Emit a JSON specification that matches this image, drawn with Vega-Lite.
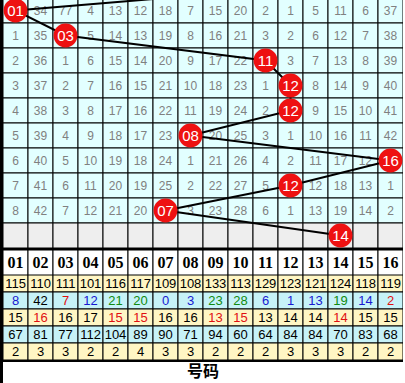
{
  "$schema": "https://vega.github.io/schema/vega-lite/v6.json",
  "background": "black",
  "padding": {"left": 3, "top": 0, "right": 0, "bottom": 0},
  "config": {"view": {"stroke": null}},
  "spacing": 2,
  "datasets": {
    "grid": [
      {"r":0,"c":1,"v":"01","h":1},{"r":0,"c":2,"v":"34"},{"r":0,"c":3,"v":"77"},{"r":0,"c":4,"v":"4"},{"r":0,"c":5,"v":"13"},{"r":0,"c":6,"v":"12"},{"r":0,"c":7,"v":"18"},{"r":0,"c":8,"v":"7"},{"r":0,"c":9,"v":"15"},{"r":0,"c":10,"v":"20"},{"r":0,"c":11,"v":"2"},{"r":0,"c":12,"v":"1"},{"r":0,"c":13,"v":"5"},{"r":0,"c":14,"v":"11"},{"r":0,"c":15,"v":"6"},{"r":0,"c":16,"v":"37"},
      {"r":1,"c":1,"v":"1"},{"r":1,"c":2,"v":"35"},{"r":1,"c":3,"v":"03","h":1},{"r":1,"c":4,"v":"5"},{"r":1,"c":5,"v":"14"},{"r":1,"c":6,"v":"13"},{"r":1,"c":7,"v":"19"},{"r":1,"c":8,"v":"8"},{"r":1,"c":9,"v":"16"},{"r":1,"c":10,"v":"21"},{"r":1,"c":11,"v":"3"},{"r":1,"c":12,"v":"2"},{"r":1,"c":13,"v":"6"},{"r":1,"c":14,"v":"12"},{"r":1,"c":15,"v":"7"},{"r":1,"c":16,"v":"38"},
      {"r":2,"c":1,"v":"2"},{"r":2,"c":2,"v":"36"},{"r":2,"c":3,"v":"1"},{"r":2,"c":4,"v":"6"},{"r":2,"c":5,"v":"15"},{"r":2,"c":6,"v":"14"},{"r":2,"c":7,"v":"20"},{"r":2,"c":8,"v":"9"},{"r":2,"c":9,"v":"17"},{"r":2,"c":10,"v":"22"},{"r":2,"c":11,"v":"11","h":1},{"r":2,"c":12,"v":"3"},{"r":2,"c":13,"v":"7"},{"r":2,"c":14,"v":"13"},{"r":2,"c":15,"v":"8"},{"r":2,"c":16,"v":"39"},
      {"r":3,"c":1,"v":"3"},{"r":3,"c":2,"v":"37"},{"r":3,"c":3,"v":"2"},{"r":3,"c":4,"v":"7"},{"r":3,"c":5,"v":"16"},{"r":3,"c":6,"v":"15"},{"r":3,"c":7,"v":"21"},{"r":3,"c":8,"v":"10"},{"r":3,"c":9,"v":"18"},{"r":3,"c":10,"v":"23"},{"r":3,"c":11,"v":"1"},{"r":3,"c":12,"v":"12","h":1},{"r":3,"c":13,"v":"8"},{"r":3,"c":14,"v":"14"},{"r":3,"c":15,"v":"9"},{"r":3,"c":16,"v":"40"},
      {"r":4,"c":1,"v":"4"},{"r":4,"c":2,"v":"38"},{"r":4,"c":3,"v":"3"},{"r":4,"c":4,"v":"8"},{"r":4,"c":5,"v":"17"},{"r":4,"c":6,"v":"16"},{"r":4,"c":7,"v":"22"},{"r":4,"c":8,"v":"11"},{"r":4,"c":9,"v":"19"},{"r":4,"c":10,"v":"24"},{"r":4,"c":11,"v":"2"},{"r":4,"c":12,"v":"12","h":1},{"r":4,"c":13,"v":"9"},{"r":4,"c":14,"v":"15"},{"r":4,"c":15,"v":"10"},{"r":4,"c":16,"v":"41"},
      {"r":5,"c":1,"v":"5"},{"r":5,"c":2,"v":"39"},{"r":5,"c":3,"v":"4"},{"r":5,"c":4,"v":"9"},{"r":5,"c":5,"v":"18"},{"r":5,"c":6,"v":"17"},{"r":5,"c":7,"v":"23"},{"r":5,"c":8,"v":"08","h":1},{"r":5,"c":9,"v":"20"},{"r":5,"c":10,"v":"25"},{"r":5,"c":11,"v":"3"},{"r":5,"c":12,"v":"1"},{"r":5,"c":13,"v":"10"},{"r":5,"c":14,"v":"16"},{"r":5,"c":15,"v":"11"},{"r":5,"c":16,"v":"42"},
      {"r":6,"c":1,"v":"6"},{"r":6,"c":2,"v":"40"},{"r":6,"c":3,"v":"5"},{"r":6,"c":4,"v":"10"},{"r":6,"c":5,"v":"19"},{"r":6,"c":6,"v":"18"},{"r":6,"c":7,"v":"24"},{"r":6,"c":8,"v":"1"},{"r":6,"c":9,"v":"21"},{"r":6,"c":10,"v":"26"},{"r":6,"c":11,"v":"4"},{"r":6,"c":12,"v":"2"},{"r":6,"c":13,"v":"11"},{"r":6,"c":14,"v":"17"},{"r":6,"c":15,"v":"12"},{"r":6,"c":16,"v":"16","h":1},
      {"r":7,"c":1,"v":"7"},{"r":7,"c":2,"v":"41"},{"r":7,"c":3,"v":"6"},{"r":7,"c":4,"v":"11"},{"r":7,"c":5,"v":"20"},{"r":7,"c":6,"v":"19"},{"r":7,"c":7,"v":"25"},{"r":7,"c":8,"v":"2"},{"r":7,"c":9,"v":"22"},{"r":7,"c":10,"v":"27"},{"r":7,"c":11,"v":"5"},{"r":7,"c":12,"v":"12","h":1},{"r":7,"c":13,"v":"12"},{"r":7,"c":14,"v":"18"},{"r":7,"c":15,"v":"13"},{"r":7,"c":16,"v":"1"},
      {"r":8,"c":1,"v":"8"},{"r":8,"c":2,"v":"42"},{"r":8,"c":3,"v":"7"},{"r":8,"c":4,"v":"12"},{"r":8,"c":5,"v":"21"},{"r":8,"c":6,"v":"20"},{"r":8,"c":7,"v":"07","h":1},{"r":8,"c":8,"v":"3"},{"r":8,"c":9,"v":"23"},{"r":8,"c":10,"v":"28"},{"r":8,"c":11,"v":"6"},{"r":8,"c":12,"v":"1"},{"r":8,"c":13,"v":"13"},{"r":8,"c":14,"v":"19"},{"r":8,"c":15,"v":"14"},{"r":8,"c":16,"v":"2"},
      {"r":9,"c":1,"v":""},{"r":9,"c":2,"v":""},{"r":9,"c":3,"v":""},{"r":9,"c":4,"v":""},{"r":9,"c":5,"v":""},{"r":9,"c":6,"v":""},{"r":9,"c":7,"v":""},{"r":9,"c":8,"v":""},{"r":9,"c":9,"v":""},{"r":9,"c":10,"v":""},{"r":9,"c":11,"v":""},{"r":9,"c":12,"v":""},{"r":9,"c":13,"v":""},{"r":9,"c":14,"v":"14","h":1},{"r":9,"c":15,"v":""},{"r":9,"c":16,"v":""}
    ],
    "path": [
      {"r":-1,"c":13},{"r":0,"c":1},{"r":1,"c":3},{"r":2,"c":11},{"r":3,"c":12},{"r":4,"c":12},{"r":5,"c":8},{"r":6,"c":16},{"r":7,"c":12},{"r":8,"c":7},{"r":9,"c":14}
    ],
    "hdr": [
      {"c":1,"t":"01"},{"c":2,"t":"02"},{"c":3,"t":"03"},{"c":4,"t":"04"},{"c":5,"t":"05"},{"c":6,"t":"06"},{"c":7,"t":"07"},{"c":8,"t":"08"},{"c":9,"t":"09"},{"c":10,"t":"10"},{"c":11,"t":"11"},{"c":12,"t":"12"},{"c":13,"t":"13"},{"c":14,"t":"14"},{"c":15,"t":"15"},{"c":16,"t":"16"}
    ],
    "stats": [
      {"k":1,"c":1,"v":"115","g":"k"},{"k":1,"c":2,"v":"110","g":"k"},{"k":1,"c":3,"v":"111","g":"k"},{"k":1,"c":4,"v":"101","g":"k"},{"k":1,"c":5,"v":"116","g":"k"},{"k":1,"c":6,"v":"117","g":"k"},{"k":1,"c":7,"v":"109","g":"k"},{"k":1,"c":8,"v":"108","g":"k"},{"k":1,"c":9,"v":"133","g":"k"},{"k":1,"c":10,"v":"113","g":"k"},{"k":1,"c":11,"v":"129","g":"k"},{"k":1,"c":12,"v":"123","g":"k"},{"k":1,"c":13,"v":"121","g":"k"},{"k":1,"c":14,"v":"124","g":"k"},{"k":1,"c":15,"v":"118","g":"k"},{"k":1,"c":16,"v":"119","g":"k"},
      {"k":2,"c":1,"v":"8","g":"b"},{"k":2,"c":2,"v":"42","g":"k"},{"k":2,"c":3,"v":"7","g":"r"},{"k":2,"c":4,"v":"12","g":"b"},{"k":2,"c":5,"v":"21","g":"g"},{"k":2,"c":6,"v":"20","g":"g"},{"k":2,"c":7,"v":"0","g":"b"},{"k":2,"c":8,"v":"3","g":"b"},{"k":2,"c":9,"v":"23","g":"g"},{"k":2,"c":10,"v":"28","g":"g"},{"k":2,"c":11,"v":"6","g":"b"},{"k":2,"c":12,"v":"1","g":"b"},{"k":2,"c":13,"v":"13","g":"b"},{"k":2,"c":14,"v":"19","g":"g"},{"k":2,"c":15,"v":"14","g":"b"},{"k":2,"c":16,"v":"2","g":"r"},
      {"k":3,"c":1,"v":"15","g":"k"},{"k":3,"c":2,"v":"16","g":"r"},{"k":3,"c":3,"v":"16","g":"k"},{"k":3,"c":4,"v":"17","g":"k"},{"k":3,"c":5,"v":"15","g":"r"},{"k":3,"c":6,"v":"15","g":"r"},{"k":3,"c":7,"v":"16","g":"k"},{"k":3,"c":8,"v":"16","g":"k"},{"k":3,"c":9,"v":"13","g":"r"},{"k":3,"c":10,"v":"15","g":"r"},{"k":3,"c":11,"v":"13","g":"k"},{"k":3,"c":12,"v":"14","g":"k"},{"k":3,"c":13,"v":"14","g":"k"},{"k":3,"c":14,"v":"14","g":"r"},{"k":3,"c":15,"v":"15","g":"k"},{"k":3,"c":16,"v":"15","g":"k"},
      {"k":4,"c":1,"v":"67","g":"k"},{"k":4,"c":2,"v":"81","g":"k"},{"k":4,"c":3,"v":"77","g":"k"},{"k":4,"c":4,"v":"112","g":"k"},{"k":4,"c":5,"v":"104","g":"k"},{"k":4,"c":6,"v":"89","g":"k"},{"k":4,"c":7,"v":"90","g":"k"},{"k":4,"c":8,"v":"71","g":"k"},{"k":4,"c":9,"v":"94","g":"k"},{"k":4,"c":10,"v":"60","g":"k"},{"k":4,"c":11,"v":"64","g":"k"},{"k":4,"c":12,"v":"84","g":"k"},{"k":4,"c":13,"v":"84","g":"k"},{"k":4,"c":14,"v":"70","g":"k"},{"k":4,"c":15,"v":"83","g":"k"},{"k":4,"c":16,"v":"68","g":"k"},
      {"k":5,"c":1,"v":"2","g":"k"},{"k":5,"c":2,"v":"3","g":"k"},{"k":5,"c":3,"v":"3","g":"k"},{"k":5,"c":4,"v":"2","g":"k"},{"k":5,"c":5,"v":"2","g":"k"},{"k":5,"c":6,"v":"4","g":"k"},{"k":5,"c":7,"v":"3","g":"k"},{"k":5,"c":8,"v":"3","g":"k"},{"k":5,"c":9,"v":"2","g":"k"},{"k":5,"c":10,"v":"2","g":"k"},{"k":5,"c":11,"v":"2","g":"k"},{"k":5,"c":12,"v":"3","g":"k"},{"k":5,"c":13,"v":"3","g":"k"},{"k":5,"c":14,"v":"3","g":"k"},{"k":5,"c":15,"v":"2","g":"k"},{"k":5,"c":16,"v":"2","g":"k"}
    ],
    "label": [{"t":"号码"}]
  },
  "vconcat": [
    {
      "width": 400,
      "height": 248,
      "encoding": {
        "x": {"field":"c","type":"ordinal","scale":{"type":"band","domain":[1,2,3,4,5,6,7,8,9,10,11,12,13,14,15,16],"paddingInner":0,"paddingOuter":0},"axis":null},
        "y": {"field":"r","type":"ordinal","scale":{"type":"band","domain":[-1,0,1,2,3,4,5,6,7,8,9],"range":[-27,248],"paddingInner":0,"paddingOuter":0},"axis":null}
      },
      "layer": [
        {
          "data": {"name":"grid"},
          "mark": {"type":"rect","stroke":"black","strokeWidth":1,"clip":true},
          "encoding": {"fill": {"condition":{"test":"datum.r == 9","value":"#EEEEEE"},"value":"#E2FFFF"}}
        },
        {
          "data": {"name":"grid"},
          "transform": [{"filter":"!datum.h"}],
          "mark": {"type":"text","color":"#808080","font":"Liberation Sans","fontSize":12,"clip":true},
          "encoding": {"text": {"field":"v"}}
        },
        {
          "data": {"name":"path"},
          "mark": {"type":"line","color":"black","strokeWidth":2,"clip":true},
          "encoding": {"order": {"field":"r","type":"quantitative"}}
        },
        {
          "data": {"name":"grid"},
          "transform": [{"filter":"datum.h == 1"}],
          "mark": {"type":"point","shape":"circle","filled":true,"color":"#EE1111","opacity":1,"size":570,"clip":true},
          "encoding": {}
        },
        {
          "data": {"name":"grid"},
          "transform": [{"filter":"datum.h == 1"}],
          "mark": {"type":"text","color":"white","font":"Liberation Sans","fontSize":15,"clip":true},
          "encoding": {"text": {"field":"v"}}
        }
      ]
    },
    {
      "spacing": 0,
      "vconcat": [
        {
          "width": 400,
          "height": 25,
          "data": {"name":"hdr"},
          "encoding": {
            "x": {"field":"c","type":"ordinal","scale":{"type":"band","paddingInner":0,"paddingOuter":0},"axis":null}
          },
          "layer": [
            {"mark": {"type":"rect","fill":"white","stroke":"black","strokeWidth":1,"clip":true}},
            {"mark": {"type":"text","font":"Liberation Serif","fontWeight":"bold","fontSize":16,"color":"black","clip":true},"encoding":{"text":{"field":"t"}}}
          ]
        },
        {
          "width": 400,
          "height": 85,
          "data": {"name":"stats"},
          "encoding": {
            "x": {"field":"c","type":"ordinal","scale":{"type":"band","paddingInner":0,"paddingOuter":0},"axis":null},
            "y": {"field":"k","type":"ordinal","scale":{"type":"band","paddingInner":0,"paddingOuter":0},"axis":null}
          },
          "layer": [
            {"mark": {"type":"rect","stroke":"black","strokeWidth":1,"clip":true},
             "encoding": {"fill": {"condition":{"test":"datum.k % 2 == 1","value":"#FFF6C4"},"value":"#C6F2F8"}}},
            {"mark": {"type":"text","font":"Liberation Sans","fontSize":13,"clip":true},
             "encoding": {"text":{"field":"v"},
               "color": {"field":"g","type":"nominal","scale":{"domain":["k","b","g","r"],"range":["#000000","#1818D0","#108A10","#E01010"]},"legend":null}}}
          ]
        }
      ]
    },
    {
      "width": 400,
      "height": 21,
      "view": {"fill":"white","stroke":null},
      "data": {"name":"label"},
      "mark": {"type":"text","font":"Noto Sans CJK SC","fontWeight":"bold","fontSize":16,"color":"black","baseline":"middle","dy":-1,"clip":true},
      "encoding": {"text":{"field":"t"}}
    }
  ]
}
